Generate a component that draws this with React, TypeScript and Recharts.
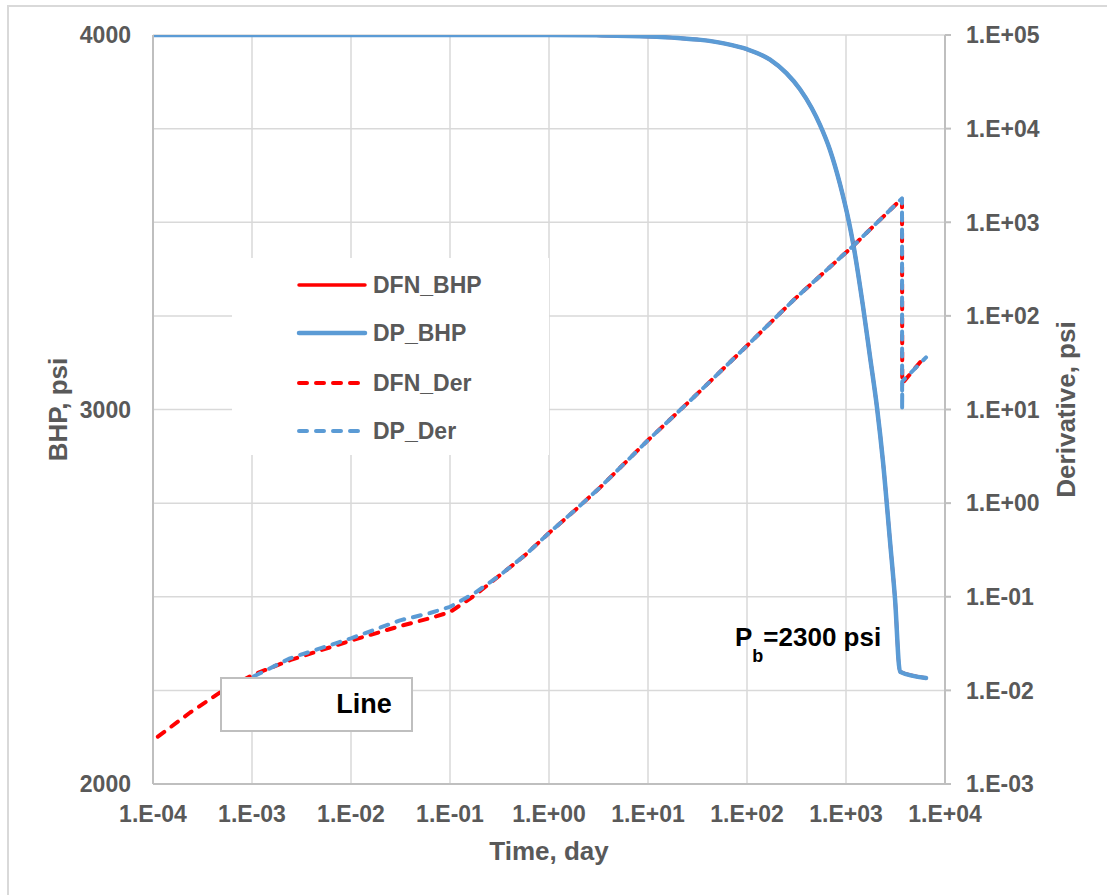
import React from 'react';
import { ComposedChart, Line, XAxis, YAxis, CartesianGrid, Legend, Label } from 'recharts';

const FONT = 'Liberation Sans, Arial, sans-serif';
const AXIS_TEXT = '#595959';
const GRID = '#d9d9d9';
const AXIS_LINE = '#bfbfbf';
const BLUE = '#5b9bd5';
const RED = '#ff0000';

// axis ticks
const timeTicks = [1e-4, 1e-3, 1e-2, 1e-1, 1, 1e1, 1e2, 1e3, 1e4];
const bhpTicks = [2000, 3000, 4000];
const derTicks = [1e-3, 1e-2, 1e-1, 1, 1e1, 1e2, 1e3, 1e4, 1e5];

// bottom-hole pressure vs time (day, psi)
const bhpTime = [1e-4, 1e-3, 1e-2, 1e-1, 1, 3, 10, 20, 34, 60, 100, 171, 250, 343, 450, 546, 689, 869, 1072, 1177, 1486, 1750, 2057, 2366, 2780, 3126, 3508, 6430];
const dpBhp = [4000, 4000, 4000, 4000, 4000, 3999, 3996, 3992, 3987, 3977, 3962, 3934, 3898, 3855, 3805, 3760, 3693, 3602, 3500, 3445, 3275, 3140, 3005, 2860, 2650, 2495, 2300, 2283];
const dfnBhp = [4000, 4000, 4000, 4000, 4000, 3999, 3996, 3992, 3987, 3977, 3962, 3934, 3898, 3855, 3805, 3760, 3693, 3602, 3500, 3445, 3275, 3140, 3005, 2860, 2650, 2495, 2300, 2283];

// pressure derivative vs time (day, psi)
const dfnDerTime = [1.12e-4, 2.37e-4, 4.75e-4, 1e-3, 2.42e-3, 1e-2, 0.0313, 0.0628, 0.1, 0.179, 0.32, 0.573, 1, 1.83, 3.3, 10, 30, 100, 300, 1148, 2000, 3680, 3700, 6430];
const dfnDer = [0.0032, 0.0058, 0.0095, 0.0145, 0.021, 0.034, 0.0486, 0.059, 0.0686, 0.104, 0.17, 0.278, 0.48, 0.84, 1.48, 4.7, 14, 48, 150, 543, 960, 1800, 19, 38];
const dpDerTime = [5e-4, 1e-3, 2.42e-3, 1e-2, 0.0313, 0.0628, 0.1, 0.179, 0.32, 0.573, 1, 1.83, 3.3, 10, 30, 100, 300, 1148, 2000, 3680, 3690, 3700, 6430];
const dpDer = [0.0105, 0.0138, 0.022, 0.036, 0.056, 0.067, 0.078, 0.11, 0.17, 0.278, 0.48, 0.84, 1.48, 4.7, 14, 48, 150, 543, 960, 1800, 10, 20, 36];

const toRows = (t: number[], v: number[]) => t.map((time, i) => ({ time, value: v[i] }));

const series = [
  { key: 'dfnBhp', name: 'DFN_BHP', color: RED, width: 3.5, dash: undefined, axis: 'bhp', curve: 'monotone', rows: toRows(bhpTime, dfnBhp) },
  { key: 'dpBhp', name: 'DP_BHP', color: BLUE, width: 4.5, dash: undefined, axis: 'bhp', curve: 'monotone', rows: toRows(bhpTime, dpBhp) },
  { key: 'dfnDer', name: 'DFN_Der', color: RED, width: 4, dash: '8 9', axis: 'der', curve: 'linear', rows: toRows(dfnDerTime, dfnDer) },
  { key: 'dpDer', name: 'DP_Der', color: BLUE, width: 4, dash: '8 9', axis: 'der', curve: 'linear', rows: toRows(dpDerTime, dpDer) },
];

const expLabel = (v: number) => {
  const e = Math.round(Math.log10(v));
  return `1.E${e < 0 ? '-' : '+'}${String(Math.abs(e)).padStart(2, '0')}`;
};

const tickText = (anchor: 'start' | 'middle' | 'end', fmt: (v: number) => string) => (props: any) => (
  <text x={props.x} y={props.y} dy="0.36em" textAnchor={anchor} fontFamily={FONT} fontSize={23} fontWeight={700} fill={AXIS_TEXT}>
    {fmt(props.payload.value)}
  </text>
);

const axisTitle = (text: string, kind: 'left' | 'right' | 'bottom') => (props: any) => {
  const vb = props.viewBox;
  let cx = vb.x + vb.width / 2;
  let cy = vb.y + vb.height / 2;
  let rotate = 0;
  if (kind === 'left') { cx = vb.x + 58; rotate = -90; }
  if (kind === 'right') { cx = vb.x + 121; rotate = -90; }
  if (kind === 'bottom') { cy = vb.y + 67; }
  return (
    <text x={cx} y={cy} dy="0.36em" textAnchor="middle" transform={rotate ? `rotate(${rotate} ${cx} ${cy})` : undefined}
      fontFamily={FONT} fontSize={26} fontWeight={700} fill={AXIS_TEXT}>
      {text}
    </text>
  );
};

const LegendBox = () => (
  <svg width={317} height={197} style={{ display: 'block', background: '#fff' }}>
    {series.map((s, i) => {
      const y = [27, 75, 125, 173][i];
      return (
        <g key={s.key}>
          <line x1={67} x2={133} y1={y} y2={y} stroke={s.color} strokeWidth={s.width} strokeDasharray={s.dash} strokeLinecap="round" />
          <text x={141} y={y} dy="0.36em" fontFamily={FONT} fontSize={23} fontWeight={700} fill={AXIS_TEXT}>{s.name}</text>
        </g>
      );
    })}
  </svg>
);

export default function App() {
  return (
    <div style={{ position: 'absolute', left: 0, top: 0, width: 1107, height: 895, overflow: 'hidden', background: '#fff', fontFamily: FONT }}>
      <div style={{ position: 'absolute', left: 7, top: 5, width: 1200, height: 1000, border: `2px solid ${GRID}` }} />
      <div style={{ position: 'absolute', left: 0, top: 0 }}>
        <ComposedChart width={1107} height={895} margin={{ top: 35, right: 0, bottom: 0, left: 0 }}>
          <CartesianGrid yAxisId="der" stroke={GRID} strokeWidth={1.5} ticks={derTicks as any} />
          <XAxis dataKey="time" type="number" scale="log" domain={[1e-4, 1e4]} allowDataOverflow ticks={timeTicks}
            height={111} stroke={AXIS_LINE} strokeWidth={2} tickLine={false} tickSize={0} tickMargin={30}
            tick={tickText('middle', expLabel)} interval={0}>
            <Label content={axisTitle('Time, day', 'bottom')} />
          </XAxis>
          <YAxis yAxisId="bhp" orientation="left" type="number" domain={[2000, 4000]} ticks={bhpTicks} allowDataOverflow
            width={153} stroke={AXIS_LINE} strokeWidth={2} tickLine={false} tickSize={0} tickMargin={22}
            tick={tickText('end', (v) => String(v))} interval={0}>
            <Label content={axisTitle('BHP, psi', 'left')} />
          </YAxis>
          <YAxis yAxisId="der" orientation="right" type="number" scale="log" domain={[1e-3, 1e5]} ticks={derTicks} allowDataOverflow
            width={162} stroke={AXIS_LINE} strokeWidth={2} tickLine={{ stroke: AXIS_LINE, strokeWidth: 2 }} tickSize={6} tickMargin={15}
            tick={tickText('start', expLabel)} interval={0}>
            <Label content={axisTitle('Derivative, psi', 'right')} />
          </YAxis>
          {series.map((s) => (
            <Line key={s.key} data={s.rows} dataKey="value" name={s.name} yAxisId={s.axis} type={s.curve as any}
              stroke={s.color} strokeWidth={s.width} strokeDasharray={s.dash} strokeLinecap="round" strokeLinejoin="round"
              dot={false} activeDot={false} isAnimationActive={false} />
          ))}
          <Legend layout="vertical" align="center" verticalAlign="middle" content={() => <LegendBox />}
            wrapperStyle={{ left: 232, top: 258, width: 317, height: 197 }} />
        </ComposedChart>
      </div>
      <svg width={1107} height={895} style={{ position: 'absolute', left: 0, top: 0, pointerEvents: 'none' }}>
        <rect x={221} y={678} width={191} height={53} fill="#fff" stroke={AXIS_LINE} strokeWidth={2} />
        <text x={364} y={713} textAnchor="middle" fontFamily={FONT} fontSize={27} fontWeight={700} fill="#000">Line</text>
        <text x={735} y={646} fontFamily={FONT} fontSize={26} fontWeight={700} fill="#000">
          P<tspan dy={16} fontSize={18}>b</tspan><tspan dy={-16}>=2300 psi</tspan>
        </text>
      </svg>
    </div>
  );
}
